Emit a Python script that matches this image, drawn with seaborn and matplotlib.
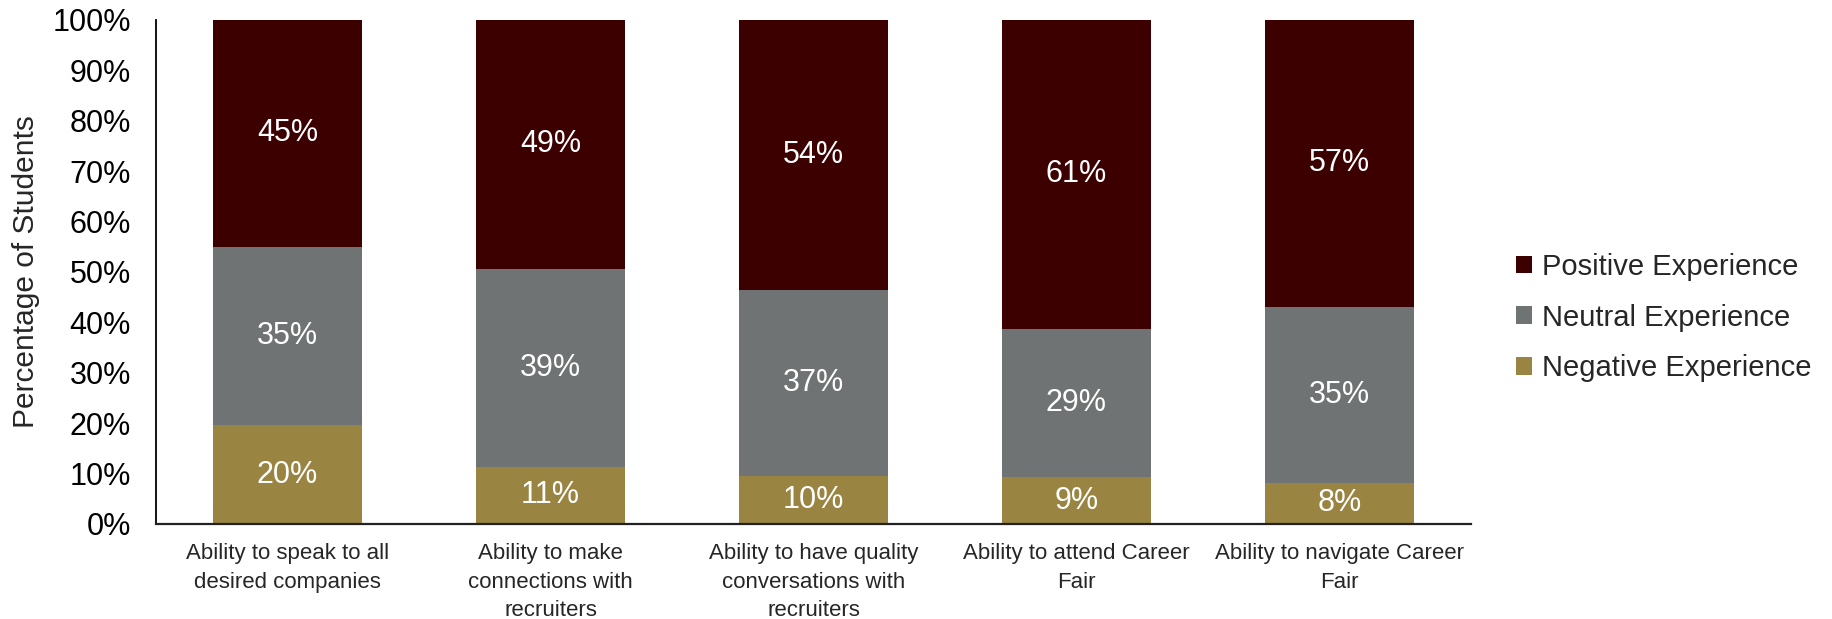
import numpy as np
import pandas as pd
import matplotlib
matplotlib.use('Agg')
import matplotlib.pyplot as plt
from matplotlib.patches import Patch
from matplotlib.ticker import PercentFormatter
import seaborn as sns

# data (percent of students)
categories = ['Ability to speak to all\ndesired companies',
              'Ability to make\nconnections with\nrecruiters',
              'Ability to have quality\nconversations with\nrecruiters',
              'Ability to attend Career\nFair',
              'Ability to navigate Career\nFair']
negative = [19.6, 11.4, 9.6, 9.3, 8.2]
neutral = [35.4, 39.2, 36.8, 29.4, 34.9]
positive = [45.0, 49.4, 53.6, 61.3, 56.9]
series_names = ['Positive Experience', 'Neutral Experience', 'Negative Experience']
colors = {'Positive Experience': '#3d0000',
          'Neutral Experience': '#707373',
          'Negative Experience': '#9a8442'}

df = pd.DataFrame({'category': categories, 'neg': negative,
                   'neu': neutral, 'pos': positive})
df['top_neg'] = df['neg']
df['top_neu'] = df['neg'] + df['neu']
df['top_pos'] = df['neg'] + df['neu'] + df['pos']

sns.set_style('white')
plt.rcParams['font.family'] = ['Liberation Sans', 'DejaVu Sans']

fig = plt.figure(figsize=(18.33, 6.19), dpi=100)
ax = fig.add_axes([0.0851, 0.1535, 0.7174, 0.8142])

# stacked bars: draw cumulative totals from the top down
for col, name in [('top_pos', 'Positive Experience'),
                  ('top_neu', 'Neutral Experience'),
                  ('top_neg', 'Negative Experience')]:
    sns.barplot(data=df, x='category', y=col, color=colors[name],
                width=0.57, saturation=1, ax=ax, errorbar=None,
                linewidth=0)

# segment labels
for i in range(len(categories)):
    for val, top in [(df['neg'][i], df['top_neg'][i]),
                     (df['neu'][i], df['top_neu'][i]),
                     (df['pos'][i], df['top_pos'][i])]:
        ax.text(i, top - val / 2, f'{round(val):d}%', ha='center',
                va='center', color='white', fontsize=22)

ax.set_ylim(0, 100)
ax.set_xlim(-0.5, len(categories) - 0.5)
ax.set_yticks(np.arange(0, 101, 10))
ax.yaxis.set_major_formatter(PercentFormatter(100, decimals=0))
ax.set_xlabel('')
ax.set_ylabel('Percentage of Students', fontsize=21.5, labelpad=9)
ax.tick_params(axis='y', length=0, pad=18, labelsize=22, colors='black')
ax.tick_params(axis='x', length=0, pad=14)
for lbl in ax.get_xticklabels():
    lbl.set_fontsize(16)
    lbl.set_linespacing(1.45)

for side in ['top', 'right']:
    ax.spines[side].set_visible(False)
ax.spines['left'].set_color('black')
ax.spines['left'].set_linewidth(1.3)
ax.spines['bottom'].set_color('#222222')
ax.spines['bottom'].set_linewidth(1.6)

handles = [Patch(facecolor=colors[n], edgecolor='none') for n in series_names]
fig.legend(handles, series_names, loc='center left',
           bbox_to_anchor=(0.819, 0.487), frameon=False, fontsize=21,
           handlelength=0.55, handleheight=0.55, handletextpad=0.35,
           labelspacing=0.78, borderpad=0)

fig.savefig('out.png', dpi=100)
